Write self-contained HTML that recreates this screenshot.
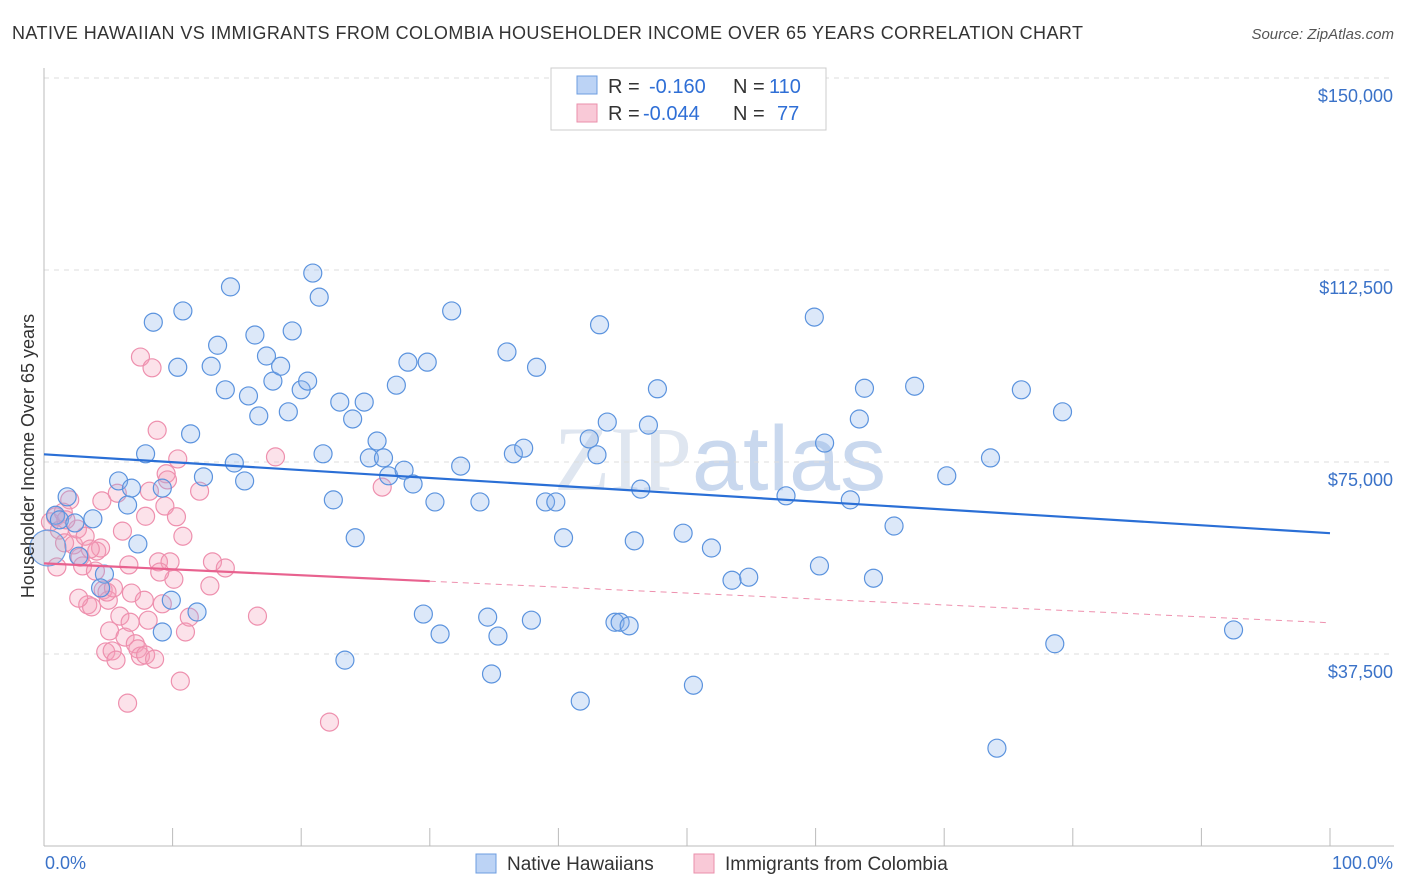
<!DOCTYPE html>
<html><head><meta charset="utf-8"><style>
body{margin:0;background:#fff;font-family:"Liberation Sans",sans-serif;}
#wrap{position:relative;width:1406px;height:892px;overflow:hidden;}
</style></head><body>
<div id="wrap">
<svg id="chart" width="1406" height="892" xmlns="http://www.w3.org/2000/svg">
<text x="12" y="39" font-size="18" fill="#333" textLength="1071" lengthAdjust="spacing">NATIVE HAWAIIAN VS IMMIGRANTS FROM COLOMBIA HOUSEHOLDER INCOME OVER 65 YEARS CORRELATION CHART</text>
<text x="1394" y="39" font-size="15" fill="#555" font-style="italic" text-anchor="end">Source: ZipAtlas.com</text>
<text x="720" y="490" font-size="92" fill="#dfe6f0" text-anchor="middle" font-family="Liberation Serif">ZIP<tspan font-family="Liberation Sans" fill="#c9d8ee">atlas</tspan></text>
<g id="grid"></g><g id="axes"></g><g id="pink"></g><g id="blue"></g><g id="lines"></g>
<text transform="translate(34,456) rotate(-90)" font-size="18" fill="#333" text-anchor="middle">Householder Income Over 65 years</text>
<text x="45" y="869" font-size="18" fill="#3a72c8">0.0%</text>
<text x="1393" y="869" font-size="18" fill="#3a72c8" text-anchor="end">100.0%</text>
<g>
<rect x="551" y="68" width="275" height="62" fill="#fff" stroke="#ccc"/>
<rect x="577" y="76" width="20" height="18" fill="#bcd3f5" stroke="#6d9de0"/>
<rect x="577" y="104" width="20" height="18" fill="#f9c9d7" stroke="#ea8fab"/>
<text x="608" y="93" font-size="20" fill="#333">R =</text>
<text x="649" y="93" font-size="20" fill="#2f6fd6">-0.160</text>
<text x="733" y="93" font-size="20" fill="#333">N =</text>
<text x="769" y="93" font-size="20" fill="#2f6fd6">110</text>
<text x="608" y="120" font-size="20" fill="#333">R =</text>
<text x="643" y="120" font-size="20" fill="#2f6fd6">-0.044</text>
<text x="733" y="120" font-size="20" fill="#333">N =</text>
<text x="777" y="120" font-size="20" fill="#2f6fd6">77</text>
</g>
<g>
<rect x="476" y="854" width="20" height="19" fill="#bcd3f5" stroke="#6d9de0"/>
<text x="507" y="870" font-size="19" fill="#333">Native Hawaiians</text>
<rect x="694" y="854" width="20" height="19" fill="#f9c9d7" stroke="#ea8fab"/>
<text x="725" y="870" font-size="19" fill="#333">Immigrants from Colombia</text>
</g>
</svg></div>
<script>
const yTicks=[37500,75000,112500,150000];
const yTickLabels=["$37,500","$75,000","$112,500","$150,000"];
const xTicks=[0,10,20,30,40,50,60,70,80,90,100];
const blueX=[1.8,0.9,1.2,3.8,2.4,2.7,4.7,4.4,5.8,6.8,6.5,7.3,7.9,8.5,10.4,10.8,9.2,11.4,12.4,9.9,9.2,11.9,13.0,13.5,14.1,14.5,14.8,15.6,15.9,16.4,16.7,17.3,17.8,18.4,19.0,19.3,20.0,20.5,20.9,21.4,21.7,22.5,23.0,23.4,24.0,24.2,24.9,25.3,25.9,26.4,26.8,27.4,28.0,28.3,28.7,29.5,29.8,30.4,30.8,31.7,32.4,33.9,34.5,34.8,35.3,36.0,36.5,37.3,37.9,38.3,39.0,39.8,40.4,41.7,42.4,43.0,43.2,43.8,44.4,44.8,45.5,45.9,46.4,47.0,47.7,49.7,50.5,51.9,53.5,54.8,57.7,59.9,60.3,60.7,62.7,63.4,63.8,64.5,66.1,67.7,70.2,73.6,74.1,76.0,78.6,79.2,92.5];
const blueY=[68.2,64.6,63.7,63.9,63.1,56.6,53.1,50.4,71.3,69.9,66.6,59.0,76.6,102.3,93.5,104.5,69.9,80.5,72.1,48.0,41.8,45.7,93.7,97.8,89.1,109.2,74.8,71.3,87.9,99.8,84.0,95.7,90.8,93.7,84.8,100.6,89.1,90.8,111.9,107.2,76.6,67.6,86.7,36.3,83.4,60.2,86.7,75.8,79.1,75.8,72.3,90.0,73.4,94.5,70.7,45.3,94.5,67.2,41.4,104.5,74.2,67.2,44.7,33.6,41.0,96.5,76.6,77.7,44.1,93.5,67.2,67.2,60.2,28.3,79.5,76.4,101.8,82.8,43.7,43.7,43.0,59.6,69.7,82.2,89.3,61.1,31.4,58.2,51.9,52.5,68.4,103.3,54.7,78.7,67.6,83.4,89.4,52.3,62.5,89.8,72.3,75.8,19.1,89.1,39.5,84.8,42.2];
const pinkX=[0.5,0.9,1.2,1.0,1.6,2.0,1.5,2.3,2.6,2.8,3.0,3.2,3.4,3.7,4.0,4.1,4.4,4.5,4.6,5.0,5.1,4.8,5.3,5.6,5.7,5.9,6.1,6.3,6.5,6.7,6.8,7.1,7.3,7.5,7.5,7.9,7.9,8.1,8.2,8.4,8.6,8.8,8.9,9.2,9.4,9.5,9.8,10.1,10.3,10.4,10.6,10.8,11.0,11.3,12.1,12.9,13.1,14.1,16.6,18.0,22.2,26.3,1.7,3.6,4.9,6.6,2.7,7.8,9.0,5.4,9.6];
const pinkY=[63.3,64.3,61.7,54.5,59.2,67.6,65.2,58.8,61.9,56.4,54.7,60.5,47.1,46.7,53.7,57.6,58.2,67.4,50.0,48.0,42.0,37.9,38.1,36.3,68.9,44.9,61.5,40.8,27.9,43.7,49.4,39.5,38.5,95.5,37.1,64.4,37.3,44.1,69.3,93.4,36.5,81.2,55.5,47.3,66.4,72.7,55.5,52.1,64.3,75.6,32.2,60.5,41.8,44.7,69.3,50.8,55.5,54.3,44.9,76.0,24.2,70.1,63.7,58.0,49.6,54.9,48.4,48.0,53.5,50.4,71.5];
const blueTrend=[76.5,61.1];
const pinkTrend=[55.2,43.6];
const pinkSolidEnd=30;
const NS="http://www.w3.org/2000/svg";
const X=v=>44+v*12.86;
const Y=v=>846-v*1000/37500*192;
function mk(t,a,p){const e=document.createElementNS(NS,t);for(const k in a)e.setAttribute(k,a[k]);p.appendChild(e);return e;}
const grid=document.getElementById('grid');
yTicks.forEach((t,i)=>{
 const l=mk('line',{x1:44,x2:1394,y1:Y(t/1000),y2:Y(t/1000),stroke:'#ddd','stroke-dasharray':'5,5'},grid);
 
 
 const tx=mk('text',{x:1393,y:Y(t/1000)+24,'font-size':18,fill:'#3a72c8','text-anchor':'end'},grid);
 tx.textContent=yTickLabels[i];
 
 
});
const axes=document.getElementById('axes');
const ax=mk('line',{x1:44,x2:44,y1:68,y2:846,stroke:'#bbb'},axes);


const bx=mk('line',{x1:44,x2:1394,y1:846,y2:846,stroke:'#bbb'},axes);


xTicks.forEach(t=>{const l=mk('line',{x1:X(t),x2:X(t),y1:828,y2:846,stroke:'#bbb'},axes);
 
 });
const pg=document.getElementById('pink');
pinkX.forEach((x,i)=>{const c=mk('circle',{cx:X(x),cy:Y(pinkY[i]),r:9,fill:'rgba(244,160,186,0.3)',stroke:'#ee90ae','stroke-width':1.2},pg);
 
 });
const bg=document.getElementById('blue');
const big=mk('circle',{cx:X(0.3),cy:Y(58.2),r:18,fill:'rgba(160,175,210,0.35)',stroke:'#6d9de0','stroke-width':1.2},bg);


blueX.forEach((x,i)=>{const c=mk('circle',{cx:X(x),cy:Y(blueY[i]),r:9,fill:'rgba(140,180,235,0.3)',stroke:'#5b93de','stroke-width':1.2},bg);
 
 });
const lg=document.getElementById('lines');
const bt=mk('line',{x1:X(0),y1:Y(blueTrend[0]),x2:X(100),y2:Y(blueTrend[1]),stroke:'#2a6fd6','stroke-width':2.2},lg);


const pm=pinkTrend[0]+(pinkTrend[1]-pinkTrend[0])*pinkSolidEnd/100;
const ps=mk('line',{x1:X(0),y1:Y(pinkTrend[0]),x2:X(pinkSolidEnd),y2:Y(pm),stroke:'#e8628f','stroke-width':2.2},lg);


const pd=mk('line',{x1:X(pinkSolidEnd),y1:Y(pm),x2:X(100),y2:Y(pinkTrend[1]),stroke:'#ee90ae','stroke-width':1,'stroke-dasharray':'6,5'},lg);


</script>
</body></html>
